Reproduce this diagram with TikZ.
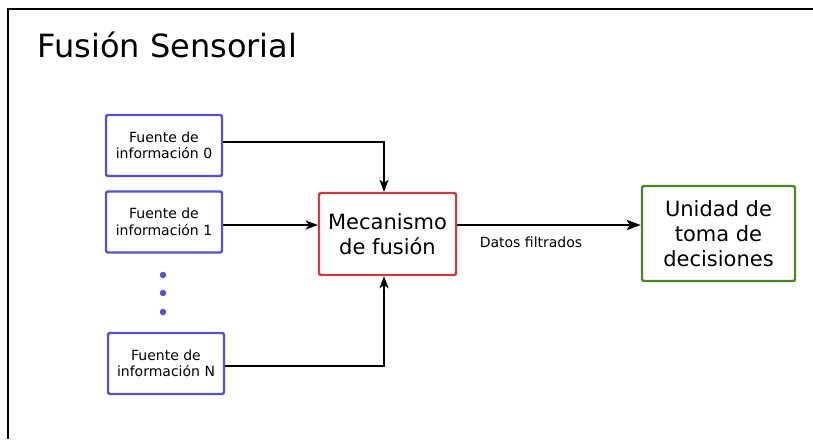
\documentclass[tikz,border=0pt]{standalone}
\usepackage{fontspec}
\setmainfont{DejaVu Sans}
\usetikzlibrary{arrows.meta}
\definecolor{srcblue}{RGB}{88,80,205}
\definecolor{fusred}{RGB}{198,62,64}
\definecolor{decgreen}{RGB}{72,134,40}
\tikzset{
  box/.style={draw, line width=2.4pt, rounded corners=2pt, align=center, inner sep=0pt},
  source/.style={box, draw=srcblue, minimum width=116pt, minimum height=61pt,
    font=\fontsize{14}{16.5}\selectfont},
  fusion/.style={box, draw=fusred, minimum width=137pt, minimum height=82pt,
    font=\fontsize{21}{25}\selectfont},
  decision/.style={box, draw=decgreen, minimum width=153pt, minimum height=95pt,
    font=\fontsize{21}{25}\selectfont},
  link/.style={line width=1.6pt, -{Stealth[length=12pt, width=9pt, inset=3pt]}},
  mainlink/.style={line width=2.6pt, -{Stealth[length=14pt, width=10pt, inset=3pt]}},
  dot/.style={circle, fill=srcblue, inner sep=0pt, minimum size=6.5pt}
}
\begin{document}
\begin{tikzpicture}[x=1pt, y=-1pt]
  \useasboundingbox (0,0) rectangle (813,439);
  % outer frame
  \draw[line width=2.5pt] (8,439) -- (8,9) -- (813,9);
  \node[anchor=base west, font=\fontsize{32}{38}\selectfont] (title) at (34,57) {Fusión Sensorial};

  % information sources
  \node[source] (s0) at (164,145.5) {Fuente de\\información 0};
  \node[source] (s1) at (164,222) {Fuente de\\información 1};
  \node[source] (sN) at (166,363.5) {Fuente de\\información N};
  \node[dot] (d1) at (163,275) {};
  \node[dot] (d2) at (163,293) {};
  \node[dot] (d3) at (163,312) {};

  % fusion and decision blocks
  \node[fusion] (fus) at (387.5,234) {Mecanismo\\de fusión};
  \node[decision] (dec) at (718.5,233.5) {Unidad de\\toma de\\decisiones};

  % connectors
  \coordinate (c0) at (384,142);
  \coordinate (c1) at (300,225);
  \coordinate (cN) at (384,366);
  \draw[link] (s0.east |- c0) -- (c0) -- (c0 |- fus.north);
  \draw[link] (s1.east |- c1) -- (fus.west |- c1);
  \draw[link] (sN.east |- cN) -- (cN) -- (cN |- fus.south);
  \draw[mainlink] (fus.east |- c1) -- (dec.west |- c1);
  \node[font=\fontsize{14}{16}\selectfont] (lbl) at (531,242) {Datos filtrados};
\end{tikzpicture}
\end{document}
